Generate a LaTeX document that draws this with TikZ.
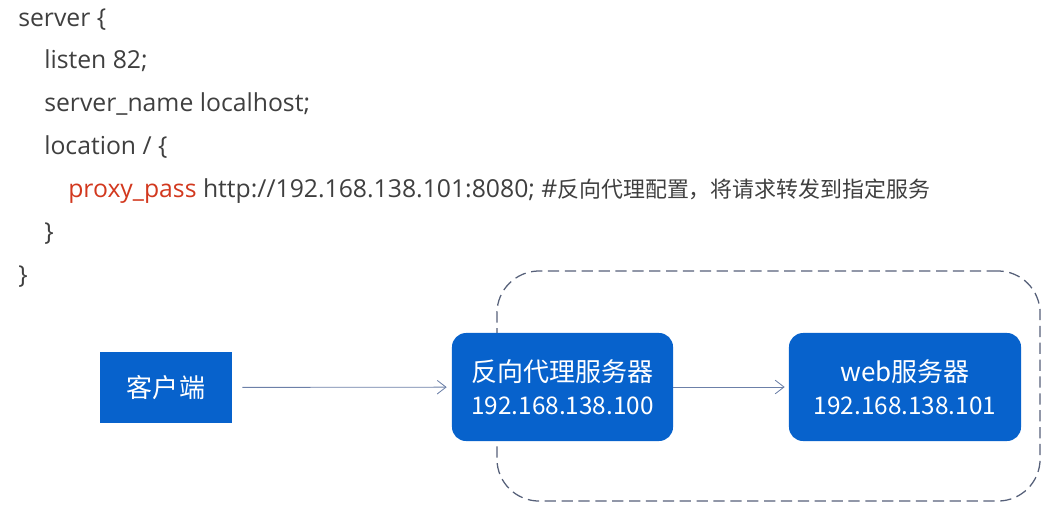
\documentclass[tikz,border=0pt]{standalone}
\usepackage{fontspec}
\setmainfont{Noto Sans CJK SC}
\newfontfamily\codelatin{Open Sans}
\usetikzlibrary{arrows.meta,positioning}
\definecolor{CodeText}{HTML}{3F3F3F}
\definecolor{CodeKey}{HTML}{D2381E}
\definecolor{BoxBlue}{HTML}{0762CC}
\definecolor{FrameGray}{HTML}{566079}
\definecolor{LinkBlue}{HTML}{6C80A8}

\begin{document}
\begin{tikzpicture}[
  x=0.025cm,y=-0.025cm,
  code/.style={anchor=base west,inner sep=0pt,text=CodeText,
    font=\codelatin\fontsize{17.6}{20}\selectfont},
  box/.style={fill=BoxBlue,text=white,align=center,inner sep=0pt,
    font=\fontsize{18.5}{23.4}\selectfont},
  serverbox/.style={box,rounded corners=10pt,minimum height=2.7cm},
  frame/.style={draw=FrameGray,dash pattern=on 8pt off 4pt,
    line width=0.9pt,rounded corners=30pt,
    minimum width=13.575cm,minimum height=5.75cm},
  arrow/.style={-{Straight Barb[length=2.2mm,width=3.4mm]},draw=LinkBlue,line width=0.6pt}
]
\useasboundingbox (0,0) rectangle (1062,514);
% nginx config
\node[code] (srv) at (18,26) {server \{};
\node[code] (listen) at (44,68.5) {listen 82;};
\node[code] (name) at (44,111) {server\_name localhost;};
\node[code] (loc) at (44,154) {location / \{};
\node[code] (pass) at (68,197) {{\color{CodeKey}proxy\_pass} http://192.168.138.101:8080; \#{\rmfamily\fontsize{15.6}{18}\selectfont 反向代理配置，将请求转发到指定服务}};
\node[code] (locend) at (44,240) {\}};
\node[code] (srvend) at (18,283) {\}};
% request path
\node[frame] (cluster) at (768.5,386) {};
\node[box,minimum width=3.3cm,minimum height=1.775cm] (client) at (166,387.5) {客户端};
\node[serverbox,minimum width=5.525cm] (proxy) at (562.5,387)
  {反向代理服务器\\{\fontsize{17.3}{20}\selectfont 192.168.138.100}};
\node[serverbox,minimum width=5.8cm] (web) at (905,387)
  {web服务器\\{\fontsize{17.3}{20}\selectfont 192.168.138.101}};
\draw[arrow,shorten <=10*0.025cm,shorten >=5*0.025cm] (client) -- (proxy);
\draw[arrow,shorten >=4*0.025cm] (proxy) -- (web);
\end{tikzpicture}
\end{document}
